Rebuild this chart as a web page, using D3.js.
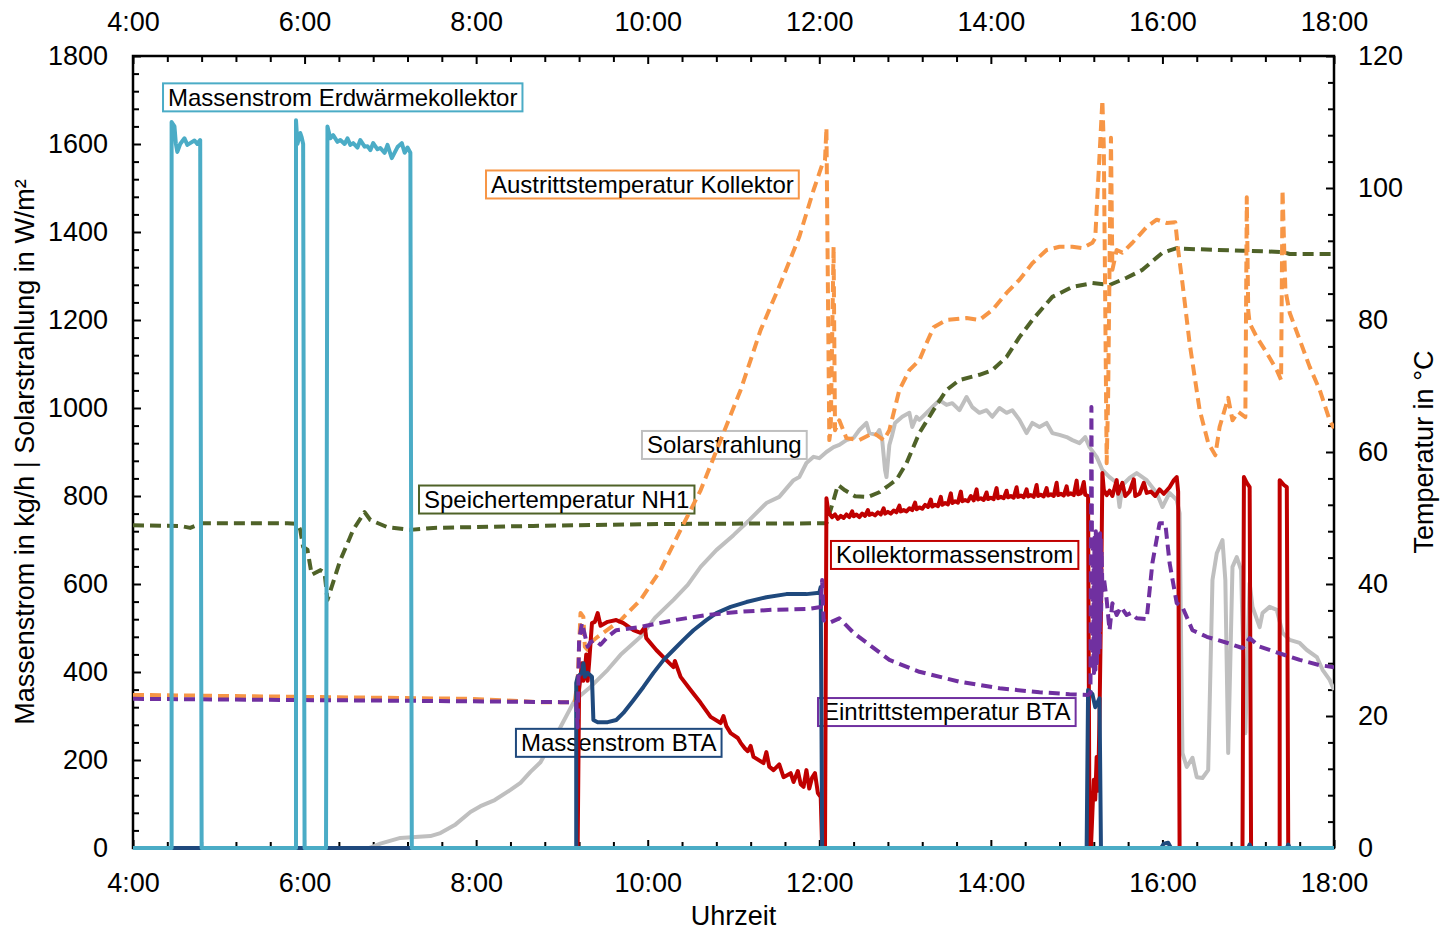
<!DOCTYPE html>
<html>
<head>
<meta charset="utf-8">
<script src="https://cdn.jsdelivr.net/npm/d3@7"></script>
<style>
  body { margin: 0; background: #fff; }
  svg { display: block; }
  text { font-family: "Liberation Sans", Arial, sans-serif; fill: #000; }
</style>
</head>
<body>
<svg id="chart" width="1441" height="933"></svg>
<script>
// ---- Axis tick labels ----
const hourTicks = [4, 6, 8, 10, 12, 14, 16, 18];
const leftTicks = [0, 200, 400, 600, 800, 1000, 1200, 1400, 1600, 1800];
const rightTicks = [0, 20, 40, 60, 80, 100, 120];

// ---- Series: [time, value] ----
// Massenstrom Erdwärmekollektor (kg/h)
const erdwaerme = [
  ["4:00",0],["4:27",0],["4:27",1650],["4:29",1640],["4:30",1600],["4:31",1582],["4:33",1600],["4:36",1613],
  ["4:38",1598],["4:40",1602],["4:43",1608],["4:45",1600],["4:47",1609],["4:48",0],
  ["5:54",0],["5:54",1654],["5:55",1600],["5:57",1625],["5:58",1615],["5:59",1600],["6:00",0],
  ["6:15",0],["6:16",1640],["6:18",1613],["6:20",1620],["6:23",1605],["6:25",1609],["6:28",1600],["6:30",1613],
  ["6:32",1598],["6:34",1602],["6:37",1592],["6:39",1609],["6:42",1594],["6:44",1595],["6:46",1586],["6:48",1602],
  ["6:51",1588],["6:53",1591],["6:56",1580],["6:58",1598],["7:01",1568],["7:05",1593],["7:08",1602],["7:10",1580],
  ["7:12",1592],["7:14",1580],["7:15",0],["18:00",0]
];

// Solarstrahlung (W/m²)
const solar = [
  ["4:00",0],["6:45",0],["6:53",10],["7:07",23],["7:28",27],["7:35",34],["7:45",52],["7:56",82],["8:03",95],
  ["8:13",109],["8:24",132],["8:31",148],["8:38",173],["8:45",195],["8:52",236],["8:59",275],["9:09",336],
  ["9:20",366],["9:32",405],["9:41",439],["9:55",480],["10:05",523],["10:18",564],["10:28",598],["10:37",639],
  ["10:48",677],["11:00",711],["11:11",745],["11:23",784],["11:32",798],["11:42",836],["11:46",843],["11:51",875],
  ["11:56",889],["12:00",886],["12:05",900],["12:10",911],["12:14",916],["12:19",927],["12:24",932],["12:28",950],
  ["12:33",966],["12:35",943],["12:40",939],["12:42",950],["12:44",927],["12:46",859],["12:47",843],["12:49",916],
  ["12:51",939],["12:53",966],["12:58",980],["13:03",989],["13:05",957],["13:08",980],["13:10",973],["13:15",989],
  ["13:19",1002],["13:24",1018],["13:29",1007],["13:33",1011],["13:38",995],["13:43",1025],["13:47",1002],
  ["13:52",989],["13:57",995],["14:01",980],["14:06",1000],["14:11",989],["14:15",995],["14:20",973],["14:25",943],
  ["14:29",966],["14:34",957],["14:39",966],["14:43",943],["14:48",939],["14:53",934],["14:57",927],["15:02",920],
  ["15:06",934],["15:09",911],["15:14",889],["15:18",859],["15:23",843],["15:28",830],["15:30",775],["15:32",825],
  ["15:37",841],["15:42",852],["15:49",836],["15:56",807],["16:00",775],["16:05",807],["16:10",791],["16:12",761],
  ["16:14",216],["16:17",184],["16:21",205],["16:24",161],["16:28",159],["16:32",177],["16:35",609],["16:38",670],
  ["16:42",700],["16:44",609],["16:46",216],["16:49",639],["16:52",661],["16:55",632],["16:58",261],["17:01",602],
  ["17:03",548],["17:08",502],["17:10",534],["17:15",548],["17:20",541],["17:24",489],["17:29",473],["17:36",466],
  ["17:41",450],["17:48",434],["17:52",405],["17:57",382],["18:00",359]
];

// Speichertemperatur NH1 (°C)
const speicher = [
  ["4:00",48.9],["4:33",48.8],["4:40",48.5],["4:48",49.2],["5:48",49.2],["5:55",49.1],["5:57",48.2],["5:59",45.6],
  ["6:02",45.2],["6:05",41.4],["6:11",42.1],["6:14",41.7],["6:16",37.6],["6:25",43.6],["6:34",48.2],["6:42",50.9],
  ["6:46",49.7],["6:58",48.6],["7:14",48.2],["7:30",48.5],["8:40",48.8],["10:13",49.1],["12:05",49.2],["12:10",52.7],
  ["12:13",55.0],["12:18",54.2],["12:25",53.3],["12:34",53.2],["12:42",53.9],["12:49",55.0],["12:54",55.8],
  ["13:01",58.3],["13:10",62.9],["13:20",66.4],["13:29",69.4],["13:38",70.9],["13:52",71.7],["14:01",72.4],
  ["14:11",74.4],["14:20",77.4],["14:29",80.0],["14:43",83.5],["14:57",85.0],["15:11",85.6],["15:23",85.3],
  ["15:35",86.4],["15:46",87.6],["16:00",90.2],["16:10",90.9],["16:14",90.8],["16:56",90.5],["17:24",90.3],
  ["17:29",90.0],["18:00",90.0]
];

// Austrittstemperatur Kollektor (°C)
const austritt = [
  ["4:00",23.2],["7:56",22.6],["8:45",22.1],["9:09",22.1],["9:11",25.5],["9:12",30.5],["9:13",35.6],["9:15",35.0],
  ["9:16",30.5],["9:18",30.0],["9:20",31.1],["9:25",32.0],["9:41",34.5],["9:55",37.6],["10:09",42.1],["10:23",48.2],
  ["10:37",54.2],["10:51",61.8],["11:05",69.4],["11:19",78.5],["11:33",85.6],["11:46",92.6],["11:56",99.7],
  ["12:02",103.5],["12:04",104.2],["12:05",109.1],["12:07",61.8],["12:08",63.3],["12:10",91.1],["12:11",63.3],
  ["12:14",64.8],["12:19",62.1],["12:28",61.8],["12:38",62.9],["12:45",61.8],["12:49",63.3],["12:56",69.4],
  ["13:03",72.4],["13:10",73.9],["13:15",76.5],["13:20",78.9],["13:29",80.0],["13:43",80.3],["13:52",80.0],
  ["14:01",81.5],["14:11",84.1],["14:20",86.1],["14:29",88.6],["14:39",90.6],["14:48",91.1],["14:57",91.1],
  ["15:04",90.9],["15:11",91.7],["15:13",92.4],["15:18",113.3],["15:19",106.2],["15:21",58.3],["15:22",67.9],
  ["15:24",107.6],["15:25",87.6],["15:28",90.6],["15:32",90.2],["15:39",91.7],["15:49",94.1],["15:56",95.2],
  ["16:03",94.7],["16:09",94.8],["16:11",90.6],["16:14",85.6],["16:19",76.5],["16:26",66.4],["16:32",61.4],
  ["16:37",59.5],["16:40",63.8],["16:46",68.2],["16:49",64.8],["16:53",66.1],["16:58",65.3],["16:59",98.6],
  ["17:00",81.5],["17:01",79.5],["17:06",77.4],["17:13",75.0],["17:20",72.4],["17:23",70.9],["17:24",99.7],
  ["17:26",84.5],["17:29",81.1],["17:36",77.0],["17:43",72.9],["17:50",69.4],["17:57",64.8],["18:00",63.6]
];

// Eintrittstemperatur BTA (°C)
const eintritt = [
  ["4:00",22.6],["7:14",22.3],["8:59",22.1],["9:10",22.1],["9:11",18.3],["9:12",31.5],["9:14",34.1],["9:18",30.5],
  ["9:20",31.2],["9:23",31.5],["9:27",30.8],["9:32",32.0],["9:38",33.0],["9:55",33.5],["10:18",34.5],["10:41",35.3],
  ["11:05",35.8],["11:28",36.1],["11:51",36.2],["12:01",36.5],["12:02",40.6],["12:03",34.5],["12:07",34.1],
  ["12:14",34.8],["12:24",32.6],["12:35",30.8],["12:49",28.5],["13:10",26.7],["13:38",25.2],["14:06",24.2],
  ["14:34",23.6],["14:55",23.3],["15:08",23.2],["15:09:40",23.5],["15:10:20",66.8],["15:10:50",40],
  ["15:11:10",28],["15:11:25",46],["15:11:40",27],["15:11:55",44],["15:12:10",26.5],["15:12:25",47],
  ["15:12:40",29],["15:12:55",45],["15:13:10",27],["15:13:25",48],["15:13:40",30],["15:13:55",46],
  ["15:14:10",28],["15:14:25",47],["15:14:40",31],["15:14:55",45],["15:15:10",29],["15:15:25",47.5],
  ["15:15:40",32],["15:15:55",46],["15:16:10",30],["15:16:25",47.7],["15:16:40",34],["15:16:55",47],
  ["15:17:10",36],["15:17:30",45],["15:18",39],["15:19",41],["15:21",37.6],["15:23",33.0],["15:25",37.1],
  ["15:28",35.3],["15:31",36.5],["15:35",35.3],["15:38",35.6],["15:42",34.8],["15:49",34.7],["15:53",43.2],
  ["15:58",49.2],["16:02",49.2],["16:05",43.2],["16:10",37.1],["16:14",36.5],["16:21",33.0],["16:31",32.0],
  ["16:45",31.1],["16:56",30.3],["17:01",31.8],["17:08",30.5],["17:22",29.5],["17:36",28.5],["17:50",27.7],
  ["18:00",27.4]
];

// Kollektormassenstrom (kg/h)
const kollektor = [
  ["4:00",0],["9:11",0],["9:12",360],["9:14",420],["9:15",380],["9:16",400],["9:17",440],["9:18",380],["9:19",420],
  ["9:21",511],["9:23",514],["9:25",534],["9:27",505],["9:32",514],["9:38",518],["9:43",511],["9:50",495],
  ["9:55",489],["9:58",502],["9:59",477],["10:06",450],["10:13",427],["10:18",411],["10:19",425],["10:23",389],
  ["10:30",359],["10:37",330],["10:44",298],["10:51",284],["10:53",300],["10:55",277],["10:58",261],["11:03",250],
  ["11:05",239],["11:08",226],["11:10",220],["11:12",232],["11:14",207],["11:21",193],["11:23",218],["11:25",185],
  ["11:28",177],["11:32",190],["11:35",161],["11:40",170],["11:42",150],["11:45",175],["11:47",145],["11:49",139],
  ["11:51",177],["11:53",135],["11:55",160],["11:57",170],["11:59",125],["12:01",116],["12:02",0],["12:04",0],
  ["12:05",795],["12:06",772],["12:07",760],["12:09",752],["12:11",758],["12:13",748],["12:15",755],["12:17",750],
  ["12:19",758],["12:21",752],["12:23",765],["12:24",754],["12:26",758],["12:28",752],["12:30",760],["12:32",755],
  ["12:34",768],["12:35",757],["12:37",760],["12:39",756],["12:41",763],["12:43",758],["12:45",772],["12:46",760],
  ["12:48",764],["12:50",760],["12:52",767],["12:54",763],["12:56",778],["12:57",765],["12:59",768],["13:01",765],
  ["13:03",772],["13:05",768],["13:07",785],["13:08",770],["13:10",774],["13:12",771],["13:14",780],["13:16",775],
  ["13:18",792],["13:19",776],["13:21",780],["13:23",777],["13:25",798],["13:26",780],["13:28",784],["13:30",781],
  ["13:32",806],["13:33",784],["13:35",788],["13:37",785],["13:39",810],["13:40",788],["13:42",791],["13:44",788],
  ["13:46",800],["13:48",790],["13:50",815],["13:51",792],["13:53",795],["13:55",791],["13:57",808],["13:58",793],
  ["14:00",796],["14:02",793],["14:04",818],["14:05",795],["14:07",798],["14:09",795],["14:11",812],["14:12",797],
  ["14:14",800],["14:16",796],["14:18",820],["14:19",798],["14:21",801],["14:23",797],["14:25",815],["14:26",799],
  ["14:28",802],["14:30",798],["14:32",825],["14:33",800],["14:35",803],["14:37",799],["14:39",818],["14:40",801],
  ["14:42",804],["14:44",800],["14:46",830],["14:47",802],["14:49",805],["14:51",801],["14:53",822],["14:54",803],
  ["14:56",806],["14:58",802],["15:00",835],["15:01",804],["15:03",806],["15:05",832],["15:06",803],["15:08",800],
  ["15:09",0],["15:10",0],["15:11",80],["15:12",155],["15:13",110],["15:14",207],["15:15",130],["15:16",300],
  ["15:17",534],["15:18",852],["15:19",814],["15:21",802],["15:23",812],["15:25",800],["15:28",836],["15:29",805],
  ["15:32",830],["15:34",800],["15:37",810],["15:40",838],["15:41",800],["15:44",805],["15:47",830],["15:49",807],
  ["15:52",810],["15:55",800],["15:58",815],["16:01",805],["16:05",820],["16:08",836],["16:10",843],["16:11",810],
  ["16:12",0],["16:56",0],["16:57",843],["16:59",830],["17:01",820],["17:02",0],["17:22",0],["17:22",836],
  ["17:25",825],["17:27",820],["17:28",0],["18:00",0]
];

// Massenstrom BTA (kg/h)
const bta = [
  ["4:00",0],["9:10",0],["9:10",375],["9:11",389],["9:14",398],["9:15",420],["9:16",389],["9:18",398],["9:21",389],
  ["9:22",291],["9:25",286],["9:32",286],["9:38",291],["9:43",307],["9:50",336],["9:57",366],["10:04",398],
  ["10:11",427],["10:18",450],["10:25",473],["10:32",495],["10:41",518],["10:48",534],["10:58",548],["11:09",559],
  ["11:23",570],["11:37",577],["11:51",577],["12:00",580],["12:01",593],["12:02",0],["15:07",0],["15:08",359],
  ["15:11",350],["15:13",320],["15:16",340],["15:17",0],["15:59",0],["16:01",10],["16:04",12],["16:06",0],
  ["17:00",0],["17:01",8],["17:02",0],["17:27",0],["17:28",8],["17:29",0],["18:00",0]
];

// ---- Setup ----
const svg = d3.select("#chart");
const plot = { left: 133, right: 1334, top: 56, bottom: 848 };

const x = d3.scaleLinear().domain([4, 18]).range([plot.left, plot.right]);
const yL = d3.scaleLinear().domain([0, 1800]).range([plot.bottom, plot.top]);
const yR = d3.scaleLinear().domain([0, 120]).range([plot.bottom, plot.top]);

const parseTime = s => {
  const [h, m, sec] = s.split(":").map(Number);
  return h + m / 60 + (sec || 0) / 3600;
};
const toPoints = arr => arr.map(([t, v]) => ({ t: parseTime(t), v }));

svg.append("defs").append("clipPath").attr("id", "plot-clip")
  .append("rect")
  .attr("x", plot.left).attr("y", plot.top - 2)
  .attr("width", plot.right - plot.left).attr("height", plot.bottom - plot.top + 4);

const series = [
  { name: "Solarstrahlung", data: solar, scale: yL, color: "#bfbfbf", dash: null },
  { name: "Speichertemperatur NH1", data: speicher, scale: yR, color: "#4f6228", dash: "11,6" },
  { name: "Austrittstemperatur Kollektor", data: austritt, scale: yR, color: "#f79646", dash: "11,6" },
  { name: "Kollektormassenstrom", data: kollektor, scale: yL, color: "#c00000", dash: null },
  { name: "Massenstrom BTA", data: bta, scale: yL, color: "#1f497d", dash: null },
  { name: "Eintrittstemperatur BTA", data: eintritt, scale: yR, color: "#7030a0", dash: "11,6" },
  { name: "Massenstrom Erdwärmekollektor", data: erdwaerme, scale: yL, color: "#4bacc6", dash: null }
];

// Series label boxes: anchored at left edge (time) and vertical centre (left-axis value)
const labelAnchors = [
  { name: "Massenstrom Erdwärmekollektor", t: 4.350, v: 1706 },
  { name: "Austrittstemperatur Kollektor", t: 8.115, v: 1508 },
  { name: "Solarstrahlung", t: 9.933, v: 916 },
  { name: "Speichertemperatur NH1", t: 7.334, v: 792 },
  { name: "Kollektormassenstrom", t: 12.136, v: 666 },
  { name: "Eintrittstemperatur BTA", t: 11.985, v: 309 },
  { name: "Massenstrom BTA", t: 8.464, v: 239 }
];

const lineGen = scale => d3.line().x(d => x(d.t)).y(d => scale(d.v));

const linesLayer = svg.append("g").attr("clip-path", "url(#plot-clip)");

function drawSeries(s) {
  linesLayer.append("path")
    .datum(toPoints(s.data))
    .attr("fill", "none")
    .attr("stroke", s.color)
    .attr("stroke-width", 4)
    .attr("stroke-linejoin", "round")
    .attr("stroke-dasharray", s.dash)
    .attr("d", lineGen(s.scale));
}

// Solar radiation lies beneath the label boxes
drawSeries(series[0]);

// Label boxes
const labelLayer = linesLayer.append("g");
labelAnchors.forEach(l => {
  const s = series.find(d => d.name === l.name);
  const g = labelLayer.append("g");
  const txt = g.append("text")
    .attr("x", x(l.t) + 5)
    .attr("y", yL(l.v))
    .attr("dy", "0.35em")
    .style("font-size", "24px")
    .text(l.name);
  const w = txt.node().getComputedTextLength();
  g.insert("rect", "text")
    .attr("x", x(l.t)).attr("y", yL(l.v) - 14)
    .attr("width", w + 10).attr("height", 28)
    .attr("fill", "#fff")
    .attr("stroke", s.color).attr("stroke-width", 2);
});

series.slice(1).forEach(drawSeries);

// ---- Axes ----
const axisFont = "27px";
const minorX = d3.range(4, 18.001, 0.4).filter(v => Math.abs(v / 2 - Math.round(v / 2)) > 0.01);
const minorL = d3.range(0, 1801, 40).filter(v => v % 200 !== 0);
const minorR = d3.range(0, 121, 4).filter(v => v % 20 !== 0);

function styleAxis(g) {
  g.select(".domain").remove();
  g.selectAll("line").attr("stroke", "#000").attr("stroke-width", 2);
  g.selectAll("text").style("font-size", axisFont).attr("fill", "#000");
}

// bottom
svg.append("g").attr("transform", `translate(0,${plot.bottom})`)
  .call(d3.axisBottom(x).tickValues(hourTicks).tickFormat(d => `${d}:00`).tickSizeInner(-8).tickSizeOuter(0).tickPadding(25))
  .call(styleAxis);
svg.append("g").attr("transform", `translate(0,${plot.bottom})`)
  .call(d3.axisBottom(x).tickValues(minorX).tickFormat("").tickSizeInner(-6).tickSizeOuter(0))
  .call(styleAxis);
// top
svg.append("g").attr("transform", `translate(0,${plot.top})`)
  .call(d3.axisTop(x).tickValues(hourTicks).tickFormat(d => `${d}:00`).tickSizeInner(-8).tickSizeOuter(0).tickPadding(25))
  .call(styleAxis);
svg.append("g").attr("transform", `translate(0,${plot.top})`)
  .call(d3.axisTop(x).tickValues(minorX).tickFormat("").tickSizeInner(-6).tickSizeOuter(0))
  .call(styleAxis);
// left
svg.append("g").attr("transform", `translate(${plot.left},0)`)
  .call(d3.axisLeft(yL).tickValues(leftTicks).tickFormat(d3.format("d")).tickSizeInner(-8).tickSizeOuter(0).tickPadding(25))
  .call(styleAxis);
svg.append("g").attr("transform", `translate(${plot.left},0)`)
  .call(d3.axisLeft(yL).tickValues(minorL).tickFormat("").tickSizeInner(-6).tickSizeOuter(0))
  .call(styleAxis);
// right
svg.append("g").attr("transform", `translate(${plot.right},0)`)
  .call(d3.axisRight(yR).tickValues(rightTicks).tickFormat(d3.format("d")).tickSizeInner(-8).tickSizeOuter(0).tickPadding(24))
  .call(styleAxis);
svg.append("g").attr("transform", `translate(${plot.right},0)`)
  .call(d3.axisRight(yR).tickValues(minorR).tickFormat("").tickSizeInner(-6).tickSizeOuter(0))
  .call(styleAxis);

// frame
svg.append("rect")
  .attr("x", plot.left).attr("y", plot.top)
  .attr("width", plot.right - plot.left).attr("height", plot.bottom - plot.top)
  .attr("fill", "none").attr("stroke", "#000").attr("stroke-width", 2.5);

// keep the data lines (incl. the ground collector baseline) above the frame
linesLayer.raise();

// axis titles
svg.append("text")
  .attr("x", (plot.left + plot.right) / 2).attr("y", 916)
  .attr("text-anchor", "middle").attr("dy", "0.35em")
  .style("font-size", axisFont)
  .text("Uhrzeit");
svg.append("text")
  .attr("transform", `translate(25,${(plot.top + plot.bottom) / 2}) rotate(-90)`)
  .attr("text-anchor", "middle").attr("dy", "0.35em")
  .style("font-size", axisFont)
  .text("Massenstrom in kg/h | Solarstrahlung in W/m²");
svg.append("text")
  .attr("transform", `translate(1424,${(plot.top + plot.bottom) / 2}) rotate(-90)`)
  .attr("text-anchor", "middle").attr("dy", "0.35em")
  .style("font-size", axisFont)
  .text("Temperatur in °C");
</script>
</body>
</html>
